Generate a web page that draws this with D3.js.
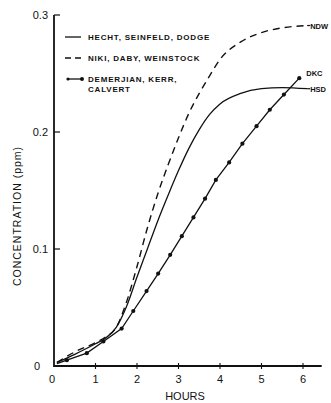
<!DOCTYPE html>
<html>
<head>
<meta charset="utf-8">
<script src="https://cdn.jsdelivr.net/npm/d3@7"></script>
<style>
  html, body { margin: 0; padding: 0; background: #fff; }
  svg { display: block; }
  text { fill: #111; font-family: "Liberation Sans", Arial, sans-serif; }
</style>
</head>
<body>
<svg id="chart" width="331" height="403"></svg>
<script>
// Ozone concentration vs. irradiation time, three model studies
const xTicks = [0, 1, 2, 3, 4, 5, 6];
const yTicks = [0, 0.1, 0.2, 0.3];
const yTickLabels = ["0", "0.1", "0.2", "0.3"];

// Hecht, Seinfeld, Dodge (solid)
const hsdHours = [0.07, 0.5, 1.0, 1.25, 1.5, 1.75, 2.0, 2.25, 2.5, 2.75, 3.0, 3.25, 3.5, 3.75, 4.0, 4.5, 5.0, 5.5, 6.1];
const hsdConc  = [0.003, 0.010, 0.019, 0.024, 0.033, 0.051, 0.076, 0.100, 0.124, 0.146, 0.167, 0.186, 0.202, 0.215, 0.224, 0.233, 0.237, 0.238, 0.237];

// Niki, Daby, Weinstock (dashed)
const ndwHours = [0.07, 0.5, 1.0, 1.25, 1.5, 1.75, 2.0, 2.25, 2.5, 2.75, 3.0, 3.25, 3.5, 3.75, 4.0, 4.5, 5.0, 5.5, 6.1];
const ndwConc  = [0.003, 0.012, 0.020, 0.025, 0.033, 0.055, 0.085, 0.118, 0.147, 0.172, 0.195, 0.216, 0.233, 0.248, 0.262, 0.277, 0.285, 0.289, 0.291];

// Demerjian, Kerr, Calvert (line with points)
const dkcHours = [0.07, 0.31, 0.79, 1.19, 1.63, 1.91, 2.23, 2.51, 2.8, 3.08, 3.36, 3.64, 3.9, 4.22, 4.54, 4.88, 5.2, 5.54, 5.91];
const dkcConc  = [0.002, 0.005, 0.011, 0.021, 0.032, 0.047, 0.064, 0.079, 0.095, 0.111, 0.127, 0.143, 0.159, 0.174, 0.19, 0.205, 0.219, 0.232, 0.246];

const legendLabels = ["HECHT, SEINFELD, DODGE", "NIKI, DABY, WEINSTOCK", "DEMERJIAN, KERR,", "CALVERT"];
const endLabels = ["HSD", "NDW", "DKC"];

const svg = d3.select("#chart");

const x = d3.scaleLinear().domain([0, 6]).range([54, 303]);
const y = d3.scaleLinear().domain([0, 0.3]).range([366, 15]);
const xMax = 6.45;

// axes
const g = svg.append("g");
g.append("line")
  .attr("x1", x(0)).attr("x2", x(xMax))
  .attr("y1", y(0)).attr("y2", y(0))
  .attr("stroke", "#111").attr("stroke-width", 1.8);
g.append("line")
  .attr("x1", x(0)).attr("x2", x(0))
  .attr("y1", y(0) + 1).attr("y2", y(0.3))
  .attr("stroke", "#111").attr("stroke-width", 1.8);

// y ticks point inward
g.selectAll(".yt").data(yTicks.slice(1)).enter().append("line")
  .attr("x1", x(0)).attr("x2", x(0) + 6)
  .attr("y1", d => y(d)).attr("y2", d => y(d))
  .attr("stroke", "#111").attr("stroke-width", 1.2);
g.selectAll(".yl").data(yTicks).enter().append("text")
  .attr("x", (d, i) => i === 0 ? 40 : 48)
  .attr("y", d => y(d) + 4)
  .attr("text-anchor", "end")
  .attr("font-size", 11)
  .text((d, i) => yTickLabels[i]);

// x ticks cross the axis
g.selectAll(".xt").data(xTicks.slice(1)).enter().append("line")
  .attr("x1", d => x(d)).attr("x2", d => x(d))
  .attr("y1", y(0) - 3).attr("y2", y(0) + 3)
  .attr("stroke", "#111").attr("stroke-width", 1.1);
g.selectAll(".xl").data(xTicks).enter().append("text")
  .attr("x", d => x(d) - (d === 0 ? 2 : 0))
  .attr("y", 383)
  .attr("text-anchor", "middle")
  .attr("font-size", 11)
  .text(d => d);

g.append("text")
  .attr("x", 185).attr("y", 400)
  .attr("text-anchor", "middle")
  .attr("font-size", 11)
  .text("HOURS");

g.append("text")
  .attr("transform", "translate(21,216) rotate(-90)")
  .attr("text-anchor", "middle")
  .attr("font-size", 10.5)
  .attr("letter-spacing", 1)
  .text("CONCENTRATION  (ppm)");

// curves
const zip = (hs, cs) => hs.map((h, i) => [h, cs[i]]);
const smooth = d3.line().x(d => x(d[0])).y(d => y(d[1])).curve(d3.curveMonotoneX);
const straight = d3.line().x(d => x(d[0])).y(d => y(d[1]));

svg.append("path")
  .attr("d", smooth(zip(hsdHours, hsdConc)))
  .attr("fill", "none").attr("stroke", "#111").attr("stroke-width", 1.3);

svg.append("path")
  .attr("d", smooth(zip(ndwHours, ndwConc)))
  .attr("fill", "none").attr("stroke", "#111").attr("stroke-width", 1.4)
  .attr("stroke-dasharray", "7,5");

const dkc = zip(dkcHours, dkcConc);
svg.append("path")
  .attr("d", straight(dkc))
  .attr("fill", "none").attr("stroke", "#111").attr("stroke-width", 1.3);
svg.selectAll(".dkc").data(dkc.slice(1)).enter().append("circle")
  .attr("cx", d => x(d[0])).attr("cy", d => y(d[1]))
  .attr("r", 2.1).attr("fill", "#111");

// curve end labels
const endPos = [
  [hsdHours[hsdHours.length - 1], hsdConc[hsdConc.length - 1], 3, 3],
  [ndwHours[ndwHours.length - 1], ndwConc[ndwConc.length - 1], 3, 3],
  [dkcHours[dkcHours.length - 1], dkcConc[dkcConc.length - 1], 7, -2]
];
svg.selectAll(".end").data(endLabels).enter().append("text")
  .attr("x", (d, i) => x(endPos[i][0]) + endPos[i][2])
  .attr("y", (d, i) => y(endPos[i][1]) + endPos[i][3])
  .attr("font-size", 7.5)
  .attr("font-weight", "bold")
  .text(d => d);
// short leaders to the HSD and NDW labels
[0, 1].forEach(i => {
  svg.append("line")
    .attr("x1", x(endPos[i][0])).attr("x2", x(endPos[i][0]) + 3)
    .attr("y1", y(endPos[i][1])).attr("y2", y(endPos[i][1]))
    .attr("stroke", "#111").attr("stroke-width", 1.2);
});

// legend
const lg = svg.append("g");
const ly = [37, 58, 79];
lg.append("line").attr("x1", 65).attr("x2", 81).attr("y1", ly[0]).attr("y2", ly[0])
  .attr("stroke", "#111").attr("stroke-width", 1.3);
lg.append("line").attr("x1", 65).attr("x2", 82).attr("y1", ly[1]).attr("y2", ly[1])
  .attr("stroke", "#111").attr("stroke-width", 1.3).attr("stroke-dasharray", "6,4");
lg.append("line").attr("x1", 68).attr("x2", 82).attr("y1", ly[2]).attr("y2", ly[2])
  .attr("stroke", "#111").attr("stroke-width", 1.3);
lg.append("circle").attr("cx", 68).attr("cy", ly[2]).attr("r", 1.6).attr("fill", "#111");
lg.append("circle").attr("cx", 82).attr("cy", ly[2]).attr("r", 2).attr("fill", "#111");

lg.selectAll(".lt").data(legendLabels).enter().append("text")
  .attr("x", 88)
  .attr("y", (d, i) => (i < 3 ? ly[i] : ly[2] + 10) + 3)
  .attr("font-size", 8)
  .attr("font-weight", "bold")
  .attr("letter-spacing", 0.8)
  .text(d => d);
</script>
</body>
</html>
